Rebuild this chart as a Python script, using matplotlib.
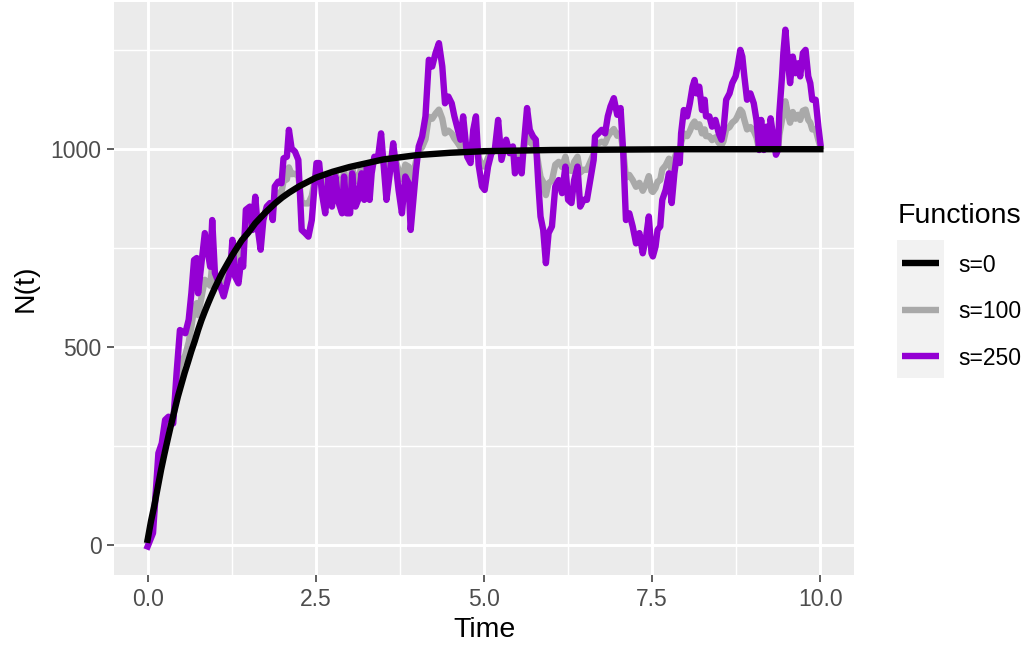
import matplotlib
matplotlib.use("Agg")
import matplotlib.pyplot as plt
from matplotlib.lines import Line2D
from matplotlib.patches import Rectangle

plt.rcParams['font.family'] = ['Liberation Sans', 'DejaVu Sans']

# ---------------- data ----------------
t_det = [0.0, 0.05, 0.1, 0.15, 0.2, 0.25, 0.3, 0.35, 0.4, 0.45, 0.5, 0.55, 0.6, 0.65, 0.7,
         0.75, 0.8, 0.85, 0.9, 0.95, 1.0, 1.1, 1.25, 1.4, 1.5, 1.6, 1.75, 1.9, 2.0, 2.1,
         2.25, 2.5, 2.75, 3.0, 3.5, 4.0, 4.5, 5.0, 6.0, 7.0, 8.0, 9.0, 10.0]
n_det = [13, 60, 100, 145, 190, 230, 268, 305, 340, 375, 405, 435, 462, 490, 515,
         543, 568, 590, 611, 631, 650, 685, 730, 770, 790, 813, 840, 864, 878, 890,
         906, 928, 943, 955, 974, 985, 991, 995, 998, 999, 1000, 1000, 1000]

t_sto = [0.00, 0.08, 0.11, 0.16, 0.21, 0.26, 0.31, 0.38, 0.43, 0.48, 0.56, 0.61, 0.65, 0.69,
         0.73, 0.75, 0.80, 0.85, 0.89, 0.93, 0.96, 1.00, 1.08, 1.13, 1.18, 1.23, 1.26, 1.30,
         1.35, 1.39, 1.42, 1.46, 1.52, 1.56, 1.60, 1.64, 1.68, 1.72, 1.77, 1.82, 1.86, 1.89,
         1.94, 1.99, 2.02, 2.07, 2.10, 2.14, 2.19, 2.24, 2.29, 2.34, 2.39, 2.44, 2.48, 2.51,
         2.55, 2.59, 2.64, 2.69, 2.74, 2.79, 2.84, 2.89, 2.92, 2.96, 3.01, 3.04, 3.09, 3.13,
         3.18, 3.22, 3.26, 3.30, 3.33, 3.37, 3.42, 3.47, 3.51, 3.55, 3.60, 3.65, 3.68, 3.73,
         3.78, 3.83, 3.88, 3.91, 3.95, 3.99, 4.03, 4.08, 4.13, 4.18, 4.23, 4.28, 4.33, 4.38,
         4.42, 4.47, 4.52, 4.56, 4.60, 4.65, 4.69, 4.75, 4.80, 4.84, 4.88, 4.92, 4.97, 5.01,
         5.06, 5.11, 5.16, 5.21, 5.26, 5.33, 5.38, 5.43, 5.46, 5.51, 5.56, 5.59, 5.64, 5.68,
         5.73, 5.77, 5.81, 5.84, 5.88, 5.92, 5.96, 6.01, 6.06, 6.11, 6.16, 6.21, 6.25, 6.30,
         6.34, 6.39, 6.43, 6.48, 6.53, 6.58, 6.63, 6.65, 6.70, 6.75, 6.80, 6.84, 6.88, 6.93,
         6.98, 7.03, 7.07, 7.11, 7.16, 7.21, 7.26, 7.31, 7.36, 7.41, 7.45, 7.49, 7.51, 7.55,
         7.58, 7.62, 7.65, 7.70, 7.75, 7.79, 7.83, 7.87, 7.91, 7.93, 7.97, 8.02, 8.06, 8.10,
         8.13, 8.16, 8.20, 8.24, 8.28, 8.30, 8.35, 8.39, 8.44, 8.49, 8.53, 8.56, 8.60, 8.65,
         8.69, 8.74, 8.77, 8.81, 8.84, 8.87, 8.91, 8.96, 9.01, 9.05, 9.09, 9.12, 9.16, 9.20,
         9.24, 9.26, 9.30, 9.34, 9.37, 9.39, 9.43, 9.45, 9.48, 9.52, 9.55, 9.59, 9.63, 9.67,
         9.70, 9.74, 9.78, 9.82, 9.85, 9.88, 9.93, 9.97, 10.00]

n_s250 = [-4, 30, 105, 232, 257, 316, 324, 307, 434, 543, 535, 569, 636, 720,
          725, 636, 712, 788, 746, 703, 821, 687, 653, 628, 661, 695, 771, 678,
          661, 720, 703, 847, 855, 796, 880, 796, 746, 821, 855, 864, 821, 906,
          918, 914, 977, 981, 1049, 1002, 994, 973, 796, 788, 779, 821, 906, 965,
          965, 889, 838, 931, 855, 931, 864, 838, 931, 838, 838, 939, 855, 872,
          939, 872, 956, 872, 939, 981, 973, 1040, 956, 872, 939, 1015, 973, 897,
          838, 931, 914, 796, 872, 948, 1007, 1032, 1083, 1226, 1209, 1243, 1268, 1209,
          1116, 1133, 1116, 1083, 1057, 1024, 1083, 981, 965, 1049, 1083, 960, 906, 897,
          956, 990, 998, 1074, 973, 1024, 990, 1007, 939, 973, 939, 1007, 1104, 1049,
          1032, 1024, 906, 830, 796, 712, 788, 805, 906, 922, 889, 956, 872, 864,
          922, 956, 855, 872, 872, 922, 973, 1032, 1040, 1049, 1040, 1083, 1108, 1129,
          1087, 1104, 990, 821, 838, 805, 762, 788, 737, 779, 830, 737, 729, 754,
          796, 805, 872, 897, 939, 864, 939, 990, 965, 1040, 1099, 1083, 1116, 1158,
          1175, 1141, 1158, 1099, 1125, 1083, 1083, 1057, 1074, 1040, 1024, 1049, 1125, 1141,
          1167, 1184, 1209, 1251, 1234, 1184, 1125, 1141, 1116, 1074, 998, 1074, 998, 1057,
          1007, 1078, 1032, 986, 998, 1091, 1184, 1243, 1302, 1217, 1167, 1234, 1192, 1217,
          1184, 1243, 1251, 1184, 1167, 1125, 1125, 1057, 1015]

n_s100 = [10, 60, 107, 186, 222, 269, 297, 320, 392, 455, 480, 512, 551, 598,
          611, 581, 626, 670, 663, 655, 709, 665, 668, 668, 690, 713, 748, 718,
          719, 749, 746, 809, 820, 802, 840, 811, 796, 830, 848, 857, 843, 879,
          889, 892, 919, 924, 954, 937, 938, 932, 864, 863, 863, 882, 918, 943,
          945, 916, 897, 937, 908, 940, 915, 906, 944, 908, 910, 951, 919, 927,
          955, 929, 962, 930, 958, 975, 972, 1000, 967, 935, 962, 993, 976, 947,
          924, 961, 956, 908, 939, 970, 995, 1005, 1025, 1082, 1077, 1090, 1100, 1077,
          1040, 1047, 1040, 1027, 1018, 1005, 1028, 987, 982, 1016, 1029, 980, 958, 956,
          979, 993, 996, 1027, 986, 1007, 993, 1001, 974, 987, 974, 1001, 1040, 1018,
          1011, 1008, 960, 930, 917, 884, 914, 921, 961, 968, 955, 981, 948, 945,
          968, 981, 941, 948, 948, 968, 988, 1012, 1015, 1019, 1015, 1032, 1042, 1051,
          1034, 1041, 995, 928, 935, 922, 905, 915, 895, 912, 932, 895, 892, 902,
          918, 922, 949, 959, 976, 946, 976, 996, 986, 1016, 1040, 1033, 1046, 1063,
          1070, 1056, 1063, 1040, 1050, 1033, 1033, 1023, 1030, 1016, 1010, 1020, 1050, 1056,
          1067, 1074, 1084, 1100, 1094, 1074, 1050, 1056, 1046, 1030, 999, 1030, 999, 1023,
          1003, 1031, 1013, 994, 999, 1036, 1074, 1097, 1121, 1087, 1067, 1094, 1077, 1087,
          1074, 1097, 1100, 1074, 1067, 1050, 1050, 1023, 1006]

series_labels = ["s=0", "s=100", "s=250"]
series_colors = ["#000000", "#A9A9A9", "#9400D3"]

x_ticks = [0, 2.5, 5, 7.5, 10]
x_ticklabels = ["0.0", "2.5", "5.0", "7.5", "10.0"]
y_ticks = [0, 500, 1000]
y_ticklabels = ["0", "500", "1000"]

# ---------------- figure ----------------
W, H = 1029, 645
fig = plt.figure(figsize=(W / 100, H / 100), dpi=100)
fig.patch.set_facecolor("white")

def fx(px):
    return px / W

def fy(py):
    return 1 - py / H

ax = fig.add_axes([fx(114), fy(575), (854 - 114) / W, (575 - 2) / H])
ax.set_facecolor("#EBEBEB")
for s in ax.spines.values():
    s.set_visible(False)

ax.set_xlim(-0.5, 10.5)
ax.set_ylim(-76, 1372)

ax.set_xticks(x_ticks)
ax.set_xticklabels(x_ticklabels)
ax.set_yticks(y_ticks)
ax.set_yticklabels(y_ticklabels)
ax.set_xticks([1.25, 3.75, 6.25, 8.75], minor=True)
ax.set_yticks([250, 750, 1250], minor=True)

ax.grid(which="major", color="white", linewidth=2.1)
ax.grid(which="minor", color="white", linewidth=1.05)
ax.set_axisbelow(True)

ax.tick_params(which="major", length=5, width=1.1, color="#333333",
               labelsize=16.5, labelcolor="#4D4D4D", pad=4)
ax.tick_params(which="minor", length=0)

lw = 4.6
ax.plot(t_sto, n_s100, color=series_colors[1], lw=lw, solid_joinstyle="round", zorder=3)
ax.plot(t_sto, n_s250, color=series_colors[2], lw=lw, solid_joinstyle="round", zorder=4)
ax.plot(t_det, n_det, color=series_colors[0], lw=lw, solid_joinstyle="round", zorder=5)

# axis titles
fig.text(fx(484), fy(637), "Time", ha="center", va="baseline", fontsize=20.5, color="black")
fig.text(fx(26), fy(288.5), "N(t)", ha="center", va="center", rotation=90,
         fontsize=20.5, color="black")

# legend
fig.text(fx(898), fy(223), "Functions", ha="left", va="baseline", fontsize=20.5, color="black")
fig.add_artist(Rectangle((fx(897), fy(378)), (944 - 897) / W, (378 - 240) / H,
                         transform=fig.transFigure, facecolor="#F2F2F2", edgecolor="none"))
key_y = [263.3, 309.7, 355.7]
base_y = [272.3, 318.3, 365.0]
for lab, col, ky, by in zip(series_labels, series_colors, key_y, base_y):
    fig.add_artist(Line2D([fx(902), fx(939)], [fy(ky), fy(ky)], transform=fig.transFigure,
                          color=col, lw=lw, solid_capstyle="butt"))
    fig.text(fx(958), fy(by), lab, ha="left", va="baseline", fontsize=16.5, color="black")

fig.savefig("out.png", dpi=100, facecolor="white")
